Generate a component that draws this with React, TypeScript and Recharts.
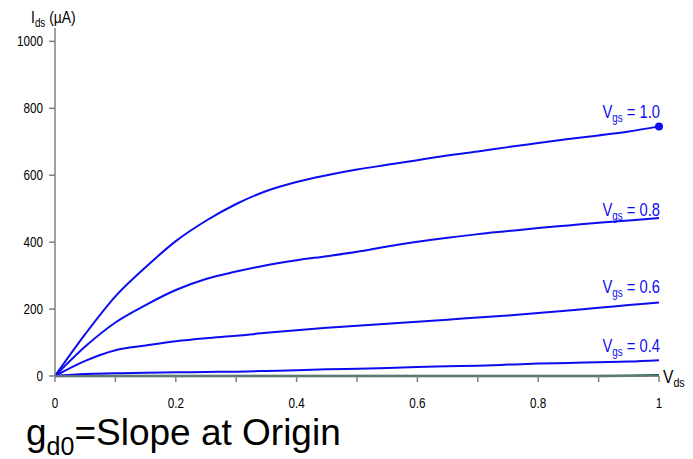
import React from 'react'
import { LineChart, Line, XAxis, YAxis } from 'recharts'

// V_ds sweep (V)
const vds = [0, 0.05, 0.1, 0.15, 0.2, 0.25, 0.3, 0.35, 0.4, 0.45, 0.5, 0.55, 0.6, 0.65, 0.7, 0.75, 0.8, 0.85, 0.9, 0.95, 1.0]

// I_ds (uA) per gate voltage
const ids10 = [0, 125, 238, 325, 403, 464, 514, 553, 580, 600, 617, 631, 645, 659, 671, 684, 696, 708, 719, 731, 746]
const ids08 = [0, 88, 160, 212, 257, 290, 312, 331, 346, 358, 371, 387, 401, 413, 424, 433, 442, 450, 458, 465, 472]
const ids06 = [0, 45, 77, 91, 104, 113, 120, 129, 137, 144, 150, 156, 162, 168, 175, 181, 188, 196, 204, 212, 220]
const ids04 = [0, 6, 8, 10, 11, 12, 13, 15, 17, 20, 22, 24, 27, 29, 31, 34, 37, 39, 41, 43, 47]
const ids02 = [0, 0, 0, 0, 0, 0, 0, 0, 0, 0, 0, 0, 0, 0, 0, 0, 0, 0, 0, 1, 2]

const xTicks = [0, 0.1, 0.2, 0.3, 0.4, 0.5, 0.6, 0.7, 0.8, 0.9, 1]
const xTickLabels = ['0', '', '0.2', '', '0.4', '', '0.6', '', '0.8', '', '1']
const yTicks = [0, 200, 400, 600, 800, 1000]

const data = vds.map((v, i) => ({
  vds: v,
  g10: ids10[i],
  g08: ids08[i],
  g06: ids06[i],
  g04: ids04[i],
  g02: ids02[i],
}))

const BLUE = '#0c0cf0'
const AXIS = '#808080'
const SANS = "'Liberation Sans', Arial, sans-serif"

const series = [
  { key: 'g10', name: '1.0', dy: -8, dot: true },
  { key: 'g08', name: '0.8', dy: -2, dot: false },
  { key: 'g06', name: '0.6', dy: -9, dot: false },
  { key: 'g04', name: '0.4', dy: -8, dot: false },
]

const last = vds.length - 1

// narrow text: Liberation Sans squeezed horizontally
function Narrow({ x, y, anchor, size, squeeze = 0.82, fill = '#000', children }: any) {
  return (
    <g transform={`translate(${x},${y}) scale(${squeeze},1)`}>
      <text x={0} y={0} textAnchor={anchor} fontFamily={SANS} fontSize={size} fill={fill}>
        {children}
      </text>
    </g>
  )
}

function XTick(props: any) {
  const label = xTickLabels[xTicks.indexOf(props.payload.value)] ?? ''
  if (!label) return null
  return <Narrow x={props.x} y={props.y + 10} anchor="middle" size={15} squeeze={0.78}>{label}</Narrow>
}

function YTick(props: any) {
  return <Narrow x={props.x} y={props.y + 5} anchor="end" size={15} squeeze={0.78}>{props.payload.value}</Narrow>
}

function makeLabel(name: string, dy: number) {
  return (props: any) => {
    if (props.index !== last) return null
    return (
      <Narrow x={props.x + 1} y={props.y + dy} anchor="end" size={18} fill={BLUE}>
        <tspan>V</tspan>
        <tspan fontSize={12} dy={4}>gs</tspan>
        <tspan dy={-4}>{` = ${name}`}</tspan>
      </Narrow>
    )
  }
}

function endDot(props: any) {
  if (props.index !== last) return <g key={props.index} />
  return <circle key={props.index} cx={props.cx} cy={props.cy} r={4} fill={BLUE} />
}

export default function App() {
  return (
    <div style={{ position: 'absolute', left: 0, top: 0, width: 693, height: 459, background: '#fff' }}>
      <LineChart width={693} height={459} data={data} margin={{ top: 28, right: 34, left: 0, bottom: 0 }}>
        <XAxis
          dataKey="vds"
          type="number"
          domain={[0, 1]}
          ticks={xTicks}
          height={83}
          tickSize={6}
          tickMargin={16}
          stroke={AXIS}
          strokeWidth={1.5}
          tick={XTick}
          interval={0}
        />
        <YAxis
          type="number"
          domain={[0, 1040]}
          ticks={yTicks}
          width={55}
          tickSize={6}
          tickMargin={6}
          stroke={AXIS}
          strokeWidth={1.5}
          tick={YTick}
          interval={0}
        />
        <Line dataKey="g02" stroke="#0d5e48" strokeWidth={2.5} dot={false} activeDot={false} isAnimationActive={false} />
        {series.map((s) => (
          <Line
            key={s.key}
            dataKey={s.key}
            type="monotone"
            stroke={BLUE}
            strokeWidth={2}
            dot={s.dot ? endDot : false}
            activeDot={false}
            label={makeLabel(s.name, s.dy)}
            isAnimationActive={false}
          />
        ))}
      </LineChart>
      <svg width={693} height={459} style={{ position: 'absolute', left: 0, top: 0, pointerEvents: 'none' }}>
        <Narrow x={31} y={23} anchor="start" size={17}>
          <tspan>I</tspan>
          <tspan fontSize={12} dy={4}>ds</tspan>
          <tspan dy={-4}> (µA)</tspan>
        </Narrow>
        <Narrow x={663} y={383} anchor="start" size={19}>
          <tspan>V</tspan>
          <tspan fontSize={13} dy={4}>ds</tspan>
        </Narrow>
        <text x={26} y={445} fontFamily={SANS} fontSize={37} fill="#000">
          <tspan>g</tspan>
          <tspan fontSize={25} dy={10}>d0</tspan>
          <tspan dy={-10}>=Slope at Origin</tspan>
        </text>
      </svg>
    </div>
  )
}
